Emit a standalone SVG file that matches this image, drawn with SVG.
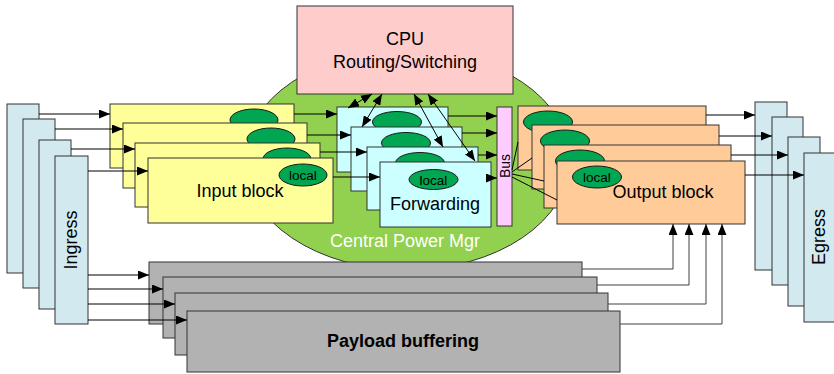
<svg xmlns="http://www.w3.org/2000/svg" width="834" height="374" viewBox="0 0 834 374">
<defs>
<marker id="ah" viewBox="0 0 11 9" refX="11" refY="4.5" markerWidth="11" markerHeight="9" markerUnits="userSpaceOnUse" orient="auto-start-reverse"><path d="M0,0 L11,4.5 L0,9 z" fill="#000"/></marker>
<style>
text{font-family:"Liberation Sans",Arial,sans-serif;font-size:18px;fill:#000;text-anchor:middle}
.box{stroke:#333;stroke-width:1}
.io{fill:#d2e9ef}
.inp{fill:#ffff99}
.fwd{fill:#ccffff}
.out{fill:#ffcc99}
.pay{fill:#b2b2b2}
.loc{fill:#00a651;stroke:#1a1a1a;stroke-width:1}
.lt{font-size:13.5px}
.c{fill:none;stroke:#000;stroke-width:1}
.a{marker-end:url(#ah)}
.d{marker-start:url(#ah);marker-end:url(#ah)}
.g{stroke:#404040}
</style>
</defs>
<rect width="834" height="374" fill="#fff"/>
<g id="power">
<ellipse cx="407" cy="160" rx="163" ry="110" fill="#92d050" stroke="#333"/>
<text x="405" y="247" style="fill:#fff">Central Power Mgr</text>
</g>
<g id="cpu">
<rect class="box" x="297" y="6" width="216" height="88" fill="#ffcccc"/>
<text x="405" y="45">CPU</text>
<text x="405" y="68">Routing/Switching</text>
</g>
<g id="ingress">
<rect class="box io" x="7" y="104" width="32" height="169"/>
<rect class="box io" x="23" y="119" width="32" height="169"/>
<rect class="box io" x="39" y="140" width="32" height="169"/>
<rect class="box io" x="55" y="156" width="33" height="168"/>
<text transform="translate(77,240) rotate(-90)">Ingress</text>
</g>
<g id="input">
<rect class="box inp" x="110" y="104" width="184" height="64"/>
<ellipse class="loc" cx="254" cy="120" rx="24" ry="11"/>
<rect class="box inp" x="123" y="123" width="184" height="65"/>
<ellipse class="loc" cx="271" cy="139" rx="24" ry="11"/>
<rect class="box inp" x="135" y="143" width="185" height="64"/>
<ellipse class="loc" cx="287" cy="159" rx="24" ry="11"/>
<rect class="box inp" x="148" y="158" width="185" height="65"/>
<ellipse class="loc" cx="303" cy="175" rx="24" ry="11"/>
<text class="lt" x="303" y="180">local</text>
<text x="240" y="197">Input block</text>
</g>
<g id="forwarding">
<rect class="box fwd" x="337" y="107" width="111" height="65"/>
<ellipse class="loc" cx="397" cy="122" rx="24.5" ry="10.5"/>
<rect class="box fwd" x="351" y="127" width="111" height="64"/>
<ellipse class="loc" cx="406" cy="143" rx="24.5" ry="10.5"/>
<rect class="box fwd" x="367" y="147" width="111" height="63"/>
<ellipse class="loc" cx="420" cy="163" rx="24.5" ry="10.5"/>
<rect class="box fwd" x="380" y="162" width="111" height="65"/>
<ellipse class="loc" cx="433.5" cy="179.5" rx="24.5" ry="10"/>
<text class="lt" x="433.5" y="184.5">local</text>
<text x="435" y="210">Forwarding</text>
</g>
<g id="bus">
<rect class="box" x="497" y="107" width="15" height="119" fill="#ffccff"/>
<text transform="translate(509.5,166) rotate(-90)" style="font-size:14px">Bus</text>
</g>
<g id="output">
<rect class="box out" x="518" y="106" width="188" height="64"/>
<ellipse class="loc" cx="548" cy="122" rx="24.5" ry="11"/>
<rect class="box out" x="532" y="125" width="187" height="64"/>
<ellipse class="loc" cx="565" cy="141" rx="24.5" ry="11"/>
<rect class="box out" x="544" y="145" width="187" height="63"/>
<ellipse class="loc" cx="580" cy="161" rx="24.5" ry="11"/>
<rect class="box out" x="557" y="161" width="188" height="63"/>
<ellipse class="loc" cx="597" cy="177" rx="24.5" ry="11"/>
<text class="lt" x="597" y="182">local</text>
<text x="663" y="198">Output block</text>
</g>
<g id="egress">
<rect class="box io" x="755" y="102" width="32" height="168"/>
<rect class="box io" x="772" y="117" width="31" height="168"/>
<rect class="box io" x="788" y="137" width="32" height="169"/>
<rect class="box io" x="804" y="153" width="32" height="169"/>
<text transform="translate(825,237) rotate(-90)">Egress</text>
</g>
<g id="payload">
<rect class="box pay" x="149" y="262" width="433" height="62"/>
<rect class="box pay" x="163" y="277" width="434" height="61"/>
<rect class="box pay" x="175" y="293" width="433" height="62"/>
<rect class="box pay" x="187" y="311" width="433" height="61"/>
<text x="403" y="347" style="font-weight:bold">Payload buffering</text>
</g>
<g id="connectors">
<path class="c a" d="M39,114H110"/>
<path class="c a" d="M55,129H123"/>
<path class="c a" d="M71,149H135"/>
<path class="c a" d="M88,171H148"/>
<path class="c a" d="M88,275H149"/>
<path class="c a" d="M88,289H163"/>
<path class="c a" d="M88,304H175"/>
<path class="c a" d="M88,320H187"/>
<path class="c a" d="M294,114H337"/>
<path class="c a" d="M307,135H351"/>
<path class="c a" d="M320,152H367"/>
<path class="c a" d="M333,177H380"/>
<path class="c a" d="M448,116H497"/>
<path class="c a" d="M462,133H497"/>
<path class="c a" d="M478,155H497"/>
<path class="c a" d="M486,178H497"/>
<path class="c" d="M512,170L518,142M512,172L532,158M512,174L544,181M512,177L557,200"/>
<path class="c a" d="M706,115H755"/>
<path class="c a" d="M719,136H772"/>
<path class="c a" d="M731,155H788"/>
<path class="c a" d="M745,175H804"/>
<path class="c a g" d="M582,269H673V224"/>
<path class="c a g" d="M597,285H689V224"/>
<path class="c a g" d="M608,304H706V224"/>
<path class="c a g" d="M620,324H722V224"/>
<path class="c d" d="M348,108L372,94"/>
<path class="c d" d="M362,127L382,94"/>
<path class="c d" d="M414,94L443,147"/>
<path class="c d" d="M428,94L475,161"/>
</g>
</svg>
